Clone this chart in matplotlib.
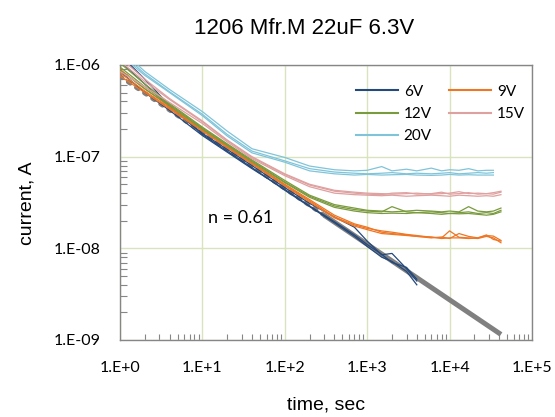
import numpy as np
import matplotlib.pyplot as plt
from matplotlib.ticker import FixedLocator, FixedFormatter, LogLocator, NullFormatter

# time grid, sec
t = [1, 2, 4, 10, 20, 40, 100, 200, 400, 700, 1000, 1500, 2000, 3000, 4000,
     6000, 8000, 10000, 13000, 17000, 22000, 28000, 34000, 42000]

# leakage current, A  (several samples per voltage)
i_6v = [
    [1.3e-6, 7.0e-7, 3.6e-7, 1.75e-7, 1.15e-7, 7.6e-8, 4.3e-8, 2.85e-8, 1.9e-8, 1.35e-8, 1.05e-8, 8.0e-9, 7.2e-9, 5.6e-9, 4.0e-9],
    [1.1e-6, 6.2e-7, 3.5e-7, 1.8e-7, 1.2e-7, 8.0e-8, 4.6e-8, 3.1e-8, 2.2e-8, 1.7e-8, 1.2e-8, 8.5e-9, 8.8e-9, 6.0e-9, 4.4e-9],
    [8.5e-7, 5.0e-7, 3.2e-7, 1.7e-7, 1.12e-7, 7.4e-8, 4.4e-8, 2.9e-8, 1.95e-8, 1.4e-8, 1.1e-8, 8.6e-9, 7.0e-9, 6.2e-9, 4.6e-9],
]
i_9v = [
    [8.2e-7, 5.2e-7, 3.4e-7, 1.95e-7, 1.28e-7, 8.5e-8, 4.9e-8, 3.3e-8, 2.2e-8, 1.8e-8, 1.65e-8, 1.55e-8, 1.5e-8, 1.42e-8, 1.38e-8,
     1.32e-8, 1.3e-8, 1.55e-8, 1.32e-8, 1.3e-8, 1.28e-8, 1.35e-8, 1.3e-8, 1.15e-8],
    [9.0e-7, 5.5e-7, 3.5e-7, 2.0e-7, 1.3e-7, 8.6e-8, 5.0e-8, 3.4e-8, 2.3e-8, 1.85e-8, 1.7e-8, 1.5e-8, 1.45e-8, 1.4e-8, 1.35e-8,
     1.3e-8, 1.33e-8, 1.28e-8, 1.45e-8, 1.35e-8, 1.3e-8, 1.38e-8, 1.36e-8, 1.22e-8],
    [7.6e-7, 5.0e-7, 3.3e-7, 1.9e-7, 1.25e-7, 8.3e-8, 4.8e-8, 3.2e-8, 2.15e-8, 1.75e-8, 1.6e-8, 1.45e-8, 1.42e-8, 1.38e-8, 1.35e-8,
     1.33e-8, 1.28e-8, 1.3e-8, 1.3e-8, 1.28e-8, 1.3e-8, 1.4e-8, 1.25e-8, 1.2e-8],
]
i_12v = [
    [9.5e-7, 5.8e-7, 3.7e-7, 2.05e-7, 1.35e-7, 9.0e-8, 5.3e-8, 3.7e-8, 2.9e-8, 2.65e-8, 2.55e-8, 2.5e-8, 2.85e-8, 2.5e-8, 2.45e-8,
     2.5e-8, 2.45e-8, 2.4e-8, 2.45e-8, 2.5e-8, 2.4e-8, 2.45e-8, 2.4e-8, 2.6e-8],
    [1.05e-6, 6.2e-7, 3.8e-7, 2.1e-7, 1.38e-7, 9.2e-8, 5.5e-8, 3.8e-8, 3.0e-8, 2.75e-8, 2.6e-8, 2.55e-8, 2.5e-8, 2.55e-8, 2.6e-8,
     2.55e-8, 2.5e-8, 2.55e-8, 2.5e-8, 2.85e-8, 2.55e-8, 2.5e-8, 2.55e-8, 2.75e-8],
    [8.8e-7, 5.5e-7, 3.6e-7, 2.0e-7, 1.33e-7, 8.8e-8, 5.2e-8, 3.6e-8, 2.8e-8, 2.55e-8, 2.45e-8, 2.4e-8, 2.42e-8, 2.4e-8, 2.45e-8,
     2.4e-8, 2.35e-8, 2.4e-8, 2.38e-8, 2.4e-8, 2.35e-8, 2.3e-8, 2.35e-8, 2.5e-8],
]
i_15v = [
    [8.5e-7, 5.8e-7, 3.9e-7, 2.3e-7, 1.45e-7, 9.5e-8, 6.2e-8, 4.7e-8, 4.0e-8, 3.85e-8, 3.8e-8, 3.75e-8, 3.8e-8, 3.7e-8, 3.75e-8,
     3.8e-8, 3.75e-8, 3.7e-8, 3.8e-8, 3.75e-8, 3.7e-8, 3.75e-8, 3.7e-8, 3.85e-8],
    [1.1e-6, 6.6e-7, 4.2e-7, 2.4e-7, 1.5e-7, 9.8e-8, 6.4e-8, 4.9e-8, 4.2e-8, 4.0e-8, 3.9e-8, 3.85e-8, 4.0e-8, 4.05e-8, 3.9e-8,
     3.95e-8, 4.1e-8, 3.9e-8, 3.95e-8, 4.05e-8, 3.9e-8, 3.95e-8, 3.9e-8, 4.1e-8],
    [1.2e-6, 7.0e-7, 4.3e-7, 2.45e-7, 1.52e-7, 1.0e-7, 6.5e-8, 5.0e-8, 4.3e-8, 4.1e-8, 4.0e-8, 3.95e-8, 3.9e-8, 3.95e-8, 4.0e-8,
     3.9e-8, 3.95e-8, 4.0e-8, 4.15e-8, 3.95e-8, 4.0e-8, 3.95e-8, 4.05e-8, 4.2e-8],
]
i_20v = [
    [1.5e-6, 8.5e-7, 5.4e-7, 3.1e-7, 1.9e-7, 1.22e-7, 9.8e-8, 7.9e-8, 7.2e-8, 7.0e-8, 7.1e-8, 7.8e-8, 7.0e-8, 7.3e-8, 7.0e-8,
     7.5e-8, 7.0e-8, 7.2e-8, 7.1e-8, 7.4e-8, 7.0e-8, 7.1e-8, 7.1e-8],
    [1.4e-6, 8.0e-7, 5.1e-7, 2.9e-7, 1.75e-7, 1.15e-7, 9.0e-8, 7.4e-8, 6.8e-8, 6.6e-8, 6.5e-8, 6.6e-8, 6.7e-8, 6.5e-8, 6.6e-8,
     6.5e-8, 6.6e-8, 6.7e-8, 6.5e-8, 6.6e-8, 6.7e-8, 6.6e-8, 6.7e-8],
    [1.3e-6, 7.7e-7, 5.0e-7, 2.8e-7, 1.68e-7, 1.1e-7, 8.7e-8, 7.0e-8, 6.5e-8, 6.3e-8, 6.4e-8, 6.3e-8, 6.35e-8, 6.4e-8, 6.3e-8,
     6.25e-8, 6.3e-8, 6.4e-8, 6.3e-8, 6.35e-8, 6.3e-8, 6.3e-8, 6.3e-8],
]

# power-law fit, n = 0.61
fit_t = [1, 300, 42000]
fit_i = [7.5e-7, 2.3e-8, 1.15e-9]

xticks = [1, 10, 100, 1000, 10000, 100000]
xtick_labels = ['1.E+0', '1.E+1', '1.E+2', '1.E+3', '1.E+4', '1.E+5']
yticks = [1e-9, 1e-8, 1e-7, 1e-6]
ytick_labels = ['1.E-09', '1.E-08', '1.E-07', '1.E-06']

series = [('6V', i_6v, '#24497C'), ('9V', i_9v, '#EE7624'), ('12V', i_12v, '#7A9A3E'),
          ('15V', i_15v, '#DFA0A0'), ('20V', i_20v, '#80C4DA')]

fig = plt.figure(figsize=(5.55, 4.17), dpi=100)
ax = fig.add_axes([120/555, 1-340/417, 412/555, 275/417])

# grey fit: dotted start, solid tail
ax.plot(fit_t[:2], fit_i[:2], color='#808080', lw=3.2, ls=(0, (0.6, 1.6)), dash_capstyle='round', zorder=2)
ax.plot(fit_t[1:], fit_i[1:], color='#808080', lw=3.6, solid_capstyle='butt', zorder=2)

handles = {}
for name, curves, col in series:
    for vals in curves:
        ln, = ax.plot(t[:len(vals)], vals, color=col, lw=0.9, zorder=3)
    handles[name] = ln

ax.set_xscale('log')
ax.set_yscale('log')
ax.set_xlim(1, 1e5)
ax.set_ylim(1e-9, 1e-6)

ax.xaxis.set_major_locator(FixedLocator(xticks))
ax.xaxis.set_major_formatter(FixedFormatter(xtick_labels))
ax.yaxis.set_major_locator(FixedLocator(yticks))
ax.yaxis.set_major_formatter(FixedFormatter(ytick_labels))
for axis in (ax.xaxis, ax.yaxis):
    axis.set_minor_locator(LogLocator(base=10, subs=np.arange(2, 10)))
    axis.set_minor_formatter(NullFormatter())

ax.grid(True, which='major', color='#D8E4BE', lw=1.0, zorder=0)
ax.set_axisbelow(True)
ax.tick_params(which='major', length=0, labelsize=11.5, colors='black')
ax.tick_params(axis='y', which='major', pad=14)
ax.tick_params(axis='x', which='major', pad=15)
ax.tick_params(which='minor', direction='in', color='#868686', width=0.8)
ax.tick_params(axis='y', which='minor', length=5)
ax.tick_params(axis='x', which='minor', length=4)
for lab in ax.get_xticklabels() + ax.get_yticklabels():
    lab.set_family('Lato')
for sp in ax.spines.values():
    sp.set_color('#868686')
    sp.set_linewidth(1.0)

ax.text(11.7, 2.16e-8, 'n = 0.61', fontsize=13, family='Lato', va='center', ha='left')

order = ['6V', '12V', '20V', '9V', '15V']
leg = fig.legend([handles[n] for n in order], order, loc='upper left',
                 bbox_to_anchor=(348/555, 1-77/417), ncol=2, frameon=False,
                 prop={'family': 'Lato', 'size': 11}, handlelength=2.8,
                 handletextpad=0.35, columnspacing=1.1, labelspacing=0.55, borderpad=0)
for h in leg.legend_handles:
    h.set_linewidth(1.5)

fig.text(304/555, 1-28/417, '1206 Mfr.M 22uF 6.3V', fontsize=16, family='Liberation Sans',
         ha='center', va='center')
fig.text(326/555, 1-405/417, 'time, sec', fontsize=14, family='Liberation Sans',
         ha='center', va='center')
fig.text(27/555, 1-203/417, 'current, A', fontsize=14, family='Liberation Sans',
         ha='center', va='center', rotation=90)

fig.savefig('out.png', dpi=100)
